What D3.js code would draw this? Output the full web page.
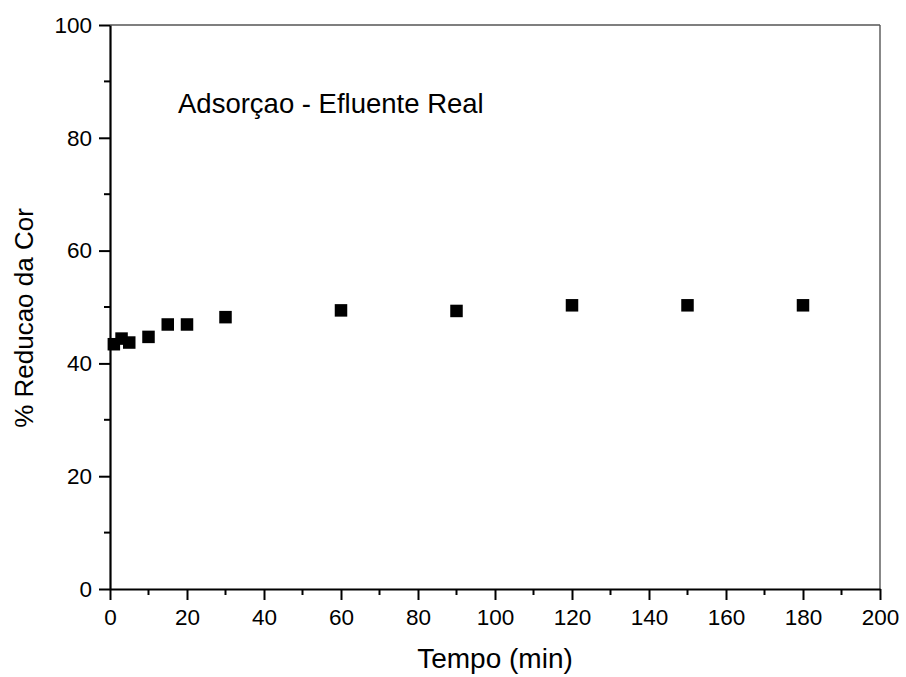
<!DOCTYPE html>
<html>
<head>
<meta charset="utf-8">
<script src="https://cdn.jsdelivr.net/npm/d3@7"></script>
<style>
  body { margin: 0; background: #fff; }
  svg { display: block; font-family: Arial, "Liberation Sans", sans-serif; }
</style>
</head>
<body>
<svg id="chart" width="906" height="677"></svg>
<script>
const tempo = [1, 3, 5, 10, 15, 20, 30, 60, 90, 120, 150, 180];
const reducao = [43.4, 44.4, 43.7, 44.7, 46.9, 46.9, 48.2, 49.4, 49.3, 50.3, 50.3, 50.3];
const xTicks = [0, 20, 40, 60, 80, 100, 120, 140, 160, 180, 200];
const yTicks = [0, 20, 40, 60, 80, 100];
const xMinor = [10, 30, 50, 70, 90, 110, 130, 150, 170, 190];
const yMinor = [10, 30, 50, 70, 90];
const annotation = "Adsorçao - Efluente Real";
const xTitle = "Tempo (min)";
const yTitle = "% Reducao da Cor";

const svg = d3.select("#chart");
const L = 110, R = 880, T = 25, B = 589;
const x = d3.scaleLinear().domain([0, 200]).range([L, R]);
const y = d3.scaleLinear().domain([0, 100]).range([B, T]);

// frame top/right
svg.append("line").attr("x1", L).attr("x2", R).attr("y1", T).attr("y2", T)
  .attr("stroke", "#555").attr("stroke-width", 1.4);
svg.append("line").attr("x1", R).attr("x2", R).attr("y1", T).attr("y2", B)
  .attr("stroke", "#555").attr("stroke-width", 1.4);

// x axis
const xAxis = svg.append("g").attr("transform", `translate(0,${B})`)
  .call(d3.axisBottom(x).tickValues(xTicks).tickSize(11).tickPadding(9).tickSizeOuter(0));
xAxis.append("g").selectAll("line").data(xMinor).join("line")
  .attr("x1", d => x(d)).attr("x2", d => x(d)).attr("y1", 0).attr("y2", 6)
  .attr("stroke", "#000").attr("stroke-width", 2);

// y axis
const yAxis = svg.append("g").attr("transform", `translate(${L},0)`)
  .call(d3.axisLeft(y).tickValues(yTicks).tickSize(11).tickPadding(7).tickSizeOuter(0));
yAxis.append("g").selectAll("line").data(yMinor).join("line")
  .attr("x1", 0).attr("x2", -6).attr("y1", d => y(d)).attr("y2", d => y(d))
  .attr("stroke", "#000").attr("stroke-width", 2);

[xAxis, yAxis].forEach(g => {
  g.attr("font-size", 22.5).attr("font-family", "Arial, 'Liberation Sans', sans-serif");
  g.select(".domain").attr("stroke", "#000").attr("stroke-width", 2.2);
  g.selectAll(".tick line").attr("stroke", "#000").attr("stroke-width", 2);
  g.selectAll(".tick text").attr("font-size", 22.5).attr("fill", "#000");
});

// points
const s = 12.5;
svg.append("g").selectAll("rect").data(tempo).join("rect")
  .attr("x", (d, i) => x(d) - s / 2)
  .attr("y", (d, i) => y(reducao[i]) - s / 2)
  .attr("width", s).attr("height", s).attr("fill", "#000");

// annotation
svg.append("text").attr("x", 178).attr("y", 113).attr("font-size", 27.5)
  .attr("fill", "#000").text(annotation);

// titles
svg.append("text").attr("x", (L + R) / 2).attr("y", 668).attr("text-anchor", "middle")
  .attr("font-size", 28).attr("fill", "#000").text(xTitle);
svg.append("text").attr("transform", "translate(33,318) rotate(-90)")
  .attr("text-anchor", "middle").attr("font-size", 26).attr("fill", "#000").text(yTitle);
</script>
</body>
</html>
